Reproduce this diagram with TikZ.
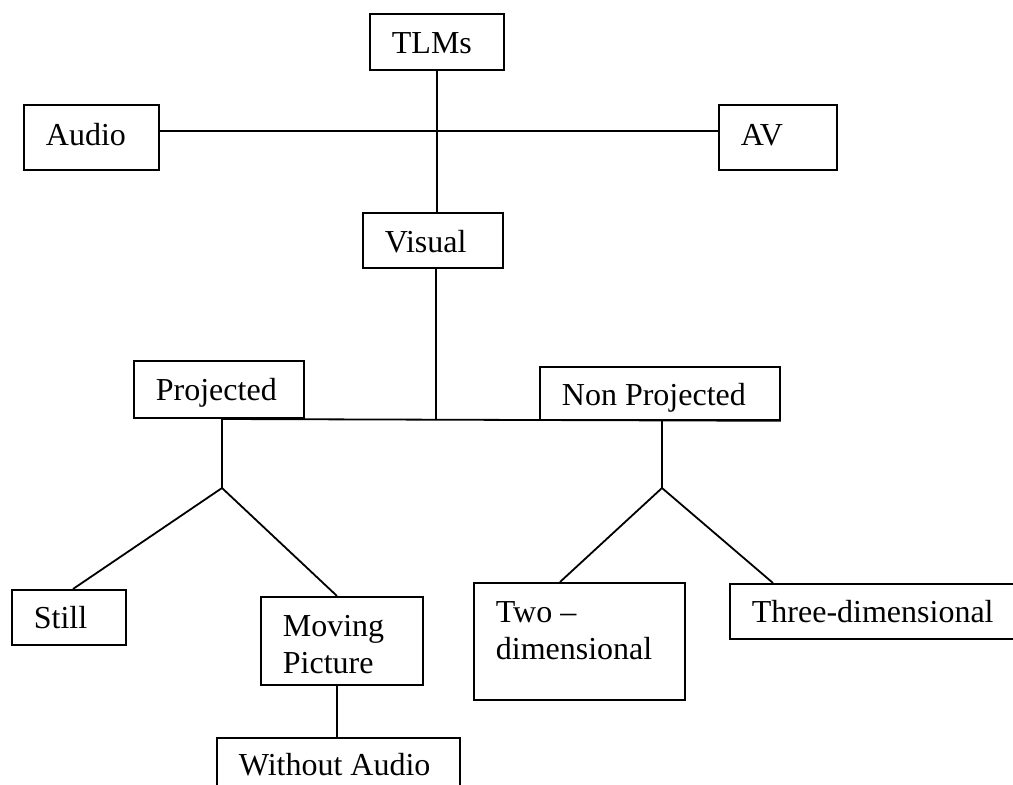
\documentclass[tikz,border=0pt]{standalone}
\usepackage{fontspec}
\setmainfont{Liberation Serif}

\begin{document}
\begin{tikzpicture}[x=1pt, y=-1pt, line width=1.8pt,
box/.style={draw, anchor=north west, align=flush left, inner xsep=22pt, inner ysep=0pt, font=\fontsize{32}{37}\selectfont}]
\useasboundingbox (0,0) rectangle (1013,785);
\clip (0,0) rectangle (1013,785);

\node[box, text width=90pt, text height=40pt, text depth=16pt] (tlms) at (369,13) {TLMs};
\node[box, text width=91pt, text height=41pt, text depth=24pt] (audio) at (23,104) {Audio};
\node[box, text width=74pt, text height=41pt, text depth=24pt] (av) at (718,104) {AV};
\node[box, text width=96pt, text height=40pt, text depth=15pt] (visual) at (362,212) {Visual};
\node[box, text width=126pt, text height=40pt, text depth=17pt] (proj) at (133,360) {Projected};
\node[box, text width=196pt, text height=39pt, text depth=14pt] (nonproj) at (539,366) {Non Projected};
\node[box, text width=70pt, text height=39pt, text depth=16pt] (still) at (11,589) {Still};
\node[box, text width=118pt, text height=40pt, text depth=48pt] (moving) at (260,596) {Moving\\Picture};
\node[box, text width=199pt, text height=38pt, text depth=32pt] (noaudio) at (216,737) {Without Audio};
\node[box, text width=167pt, text height=40pt, text depth=77pt] (twod) at (473,582) {Two --\\dimensional};
\node[box, text width=256pt, text height=39pt, text depth=16pt] (threed) at (729,583) {Three-dimensional};

\coordinate (hub) at (436,131);
\coordinate (bar) at (436,419);
\coordinate (pjoin) at (222,488);
\coordinate (njoin) at (662,488);

\draw (tlms.south) -- (tlms.south |- visual.north);
\draw (audio.east |- hub) -- (av.west |- hub);
\draw (visual.south -| bar) -- (bar);
\draw (pjoin |- bar) -- (nonproj.south east);
\draw (pjoin |- bar) -- (pjoin);
\draw (pjoin) -- ([xshift=62pt]still.north west);
\draw (pjoin) -- ([xshift=77pt]moving.north west);
\draw ([xshift=77pt]moving.south west) -- ([xshift=121pt]noaudio.north west);
\draw (njoin |- bar) -- (njoin);
\draw (njoin) -- ([xshift=87pt]twod.north west);
\draw (njoin) -- ([xshift=44pt]threed.north west);
\end{tikzpicture}
\end{document}
